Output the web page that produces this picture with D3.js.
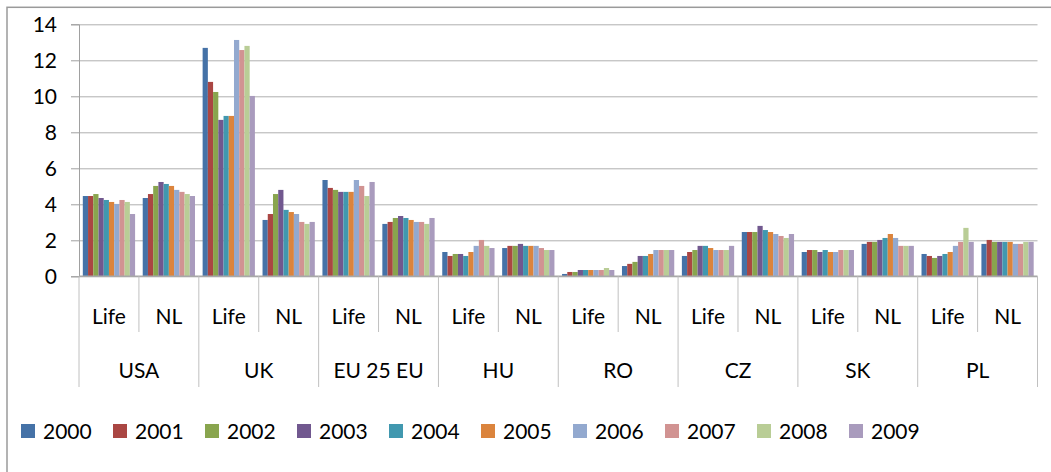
<!DOCTYPE html>
<html>
<head>
<meta charset="utf-8">
<script src="https://cdn.jsdelivr.net/npm/d3@7"></script>
<style>
  body { margin: 0; background: #fff; }
  text { font-family: Lato, "Open Sans", sans-serif; fill: #000; }
</style>
</head>
<body>
<svg id="chart" width="1051" height="472"></svg>
<script>
let countries = ["USA", "UK", "EU 25 EU", "HU", "RO", "CZ", "SK", "PL"];
let types = ["Life", "NL"];
let years = ["2000", "2001", "2002", "2003", "2004", "2005", "2006", "2007", "2008", "2009"];
let yTicks = [0, 2, 4, 6, 8, 10, 12, 14];

// one value per group: USA Life, USA NL, UK Life, UK NL, ... PL NL
let v2000 = [4.46, 4.35, 12.69, 3.13, 5.35, 2.91, 1.35, 1.57, 0.13, 0.57, 1.13, 2.46, 1.35, 1.80, 1.24, 1.80];
let v2001 = [4.46, 4.57, 10.80, 3.46, 4.91, 3.02, 1.13, 1.69, 0.24, 0.69, 1.35, 2.46, 1.46, 1.91, 1.13, 2.02];
let v2002 = [4.57, 5.02, 10.24, 4.57, 4.80, 3.24, 1.24, 1.69, 0.24, 0.80, 1.46, 2.46, 1.46, 1.91, 1.02, 1.91];
let v2003 = [4.35, 5.24, 8.69, 4.80, 4.69, 3.35, 1.24, 1.80, 0.35, 1.13, 1.69, 2.80, 1.35, 2.02, 1.13, 1.91];
let v2004 = [4.24, 5.13, 8.91, 3.69, 4.69, 3.24, 1.13, 1.69, 0.35, 1.13, 1.69, 2.57, 1.46, 2.13, 1.24, 1.91];
let v2005 = [4.13, 5.02, 8.91, 3.57, 4.69, 3.13, 1.35, 1.69, 0.35, 1.24, 1.57, 2.46, 1.35, 2.35, 1.35, 1.91];
let v2006 = [4.02, 4.80, 13.13, 3.46, 5.35, 3.02, 1.69, 1.69, 0.35, 1.46, 1.46, 2.35, 1.35, 2.13, 1.69, 1.80];
let v2007 = [4.24, 4.69, 12.57, 3.02, 5.02, 3.02, 2.02, 1.57, 0.35, 1.46, 1.46, 2.24, 1.46, 1.69, 1.91, 1.80];
let v2008 = [4.13, 4.57, 12.80, 2.91, 4.46, 2.91, 1.69, 1.46, 0.46, 1.46, 1.46, 2.13, 1.46, 1.69, 2.69, 1.91];
let v2009 = [3.46, 4.46, 10.02, 3.02, 5.24, 3.24, 1.57, 1.46, 0.35, 1.46, 1.69, 2.35, 1.46, 1.69, 1.91, 1.91];
let series = [v2000, v2001, v2002, v2003, v2004, v2005, v2006, v2007, v2008, v2009];

let colors = ["#4572A7", "#AA4643", "#89A54E", "#71588F", "#4198AF",
              "#DB843D", "#93A9CF", "#D19392", "#B9CD96", "#A99BBD"];

let svg = d3.select("#chart");
let padding = { top: 24.3, left: 79, right: 1037.5, bottom: 276.3 };
let fontSize = "21px";

// outer frame
svg.append("rect")
    .attr("x", 7)
    .attr("y", 7.3)
    .attr("width", 1100)
    .attr("height", 600)
    .attr("fill", "none")
    .attr("stroke", "#9a9a9a")
    .attr("stroke-width", 1.5);

let groups = [];
countries.forEach(c => types.forEach(t => groups.push(c + "|" + t)));

let x0 = d3.scaleBand()
            .domain(groups)
            .range([padding.left, padding.right]);
let x1 = d3.scaleBand()
            .domain(years)
            .range([0, x0.bandwidth()])
            .paddingOuter(0.73);
let yScale = d3.scaleLinear()
            .domain([0, 14])
            .range([padding.bottom, padding.top]);

// gridlines
svg.append("g")
    .attr("transform", "translate(" + padding.left + ",0)")
    .call(d3.axisLeft(yScale).tickValues(yTicks).tickSize(-(padding.right - padding.left)).tickFormat(""))
    .call(g => g.select(".domain").remove())
    .call(g => g.selectAll("line").attr("stroke", "#b0b0b0"));

// bars
series.forEach((vals, i) => {
    svg.append("g")
        .selectAll("rect")
        .data(vals)
        .enter()
        .append("rect")
            .attr("x", (d, j) => x0(groups[j]) + x1(years[i]))
            .attr("width", x1.bandwidth())
            .attr("y", d => yScale(d))
            .attr("height", d => padding.bottom - yScale(d))
            .attr("fill", colors[i]);
});

// y axis
svg.append("g")
    .attr("transform", "translate(" + padding.left + ",0)")
    .call(d3.axisLeft(yScale).tickValues(yTicks).tickSize(8).tickPadding(14))
    .call(g => g.select(".domain").attr("stroke", "#a0a0a0"))
    .call(g => g.selectAll(".tick line").attr("stroke", "#a0a0a0"))
    .call(g => g.selectAll(".tick text").style("font-size", fontSize).style("font-family", "Lato, sans-serif"));

// category axis
let cat = svg.append("g");
cat.append("line")
    .attr("x1", padding.left).attr("x2", padding.right)
    .attr("y1", padding.bottom).attr("y2", padding.bottom)
    .attr("stroke", "#a8a8a8").attr("stroke-width", 1.5);

cat.append("line")
    .attr("x1", padding.left).attr("x2", padding.left)
    .attr("y1", padding.bottom).attr("y2", 387)
    .attr("stroke", "#c0c0c0");

groups.forEach((g, j) => {
    let xr = x0(g) + x0.bandwidth();
    let isCountryEnd = j % 2 == 1;
    cat.append("line")
        .attr("x1", xr).attr("x2", xr)
        .attr("y1", padding.bottom)
        .attr("y2", isCountryEnd ? 387 : 332)
        .attr("stroke", "#c0c0c0");
    cat.append("text")
        .attr("x", x0(g) + x0.bandwidth() / 2)
        .attr("y", 317)
        .attr("dy", "0.35em")
        .attr("text-anchor", "middle")
        .style("font-size", fontSize)
        .text(g.split("|")[1]);
});

countries.forEach(c => {
    cat.append("text")
        .attr("x", x0(c + "|NL"))
        .attr("y", 371)
        .attr("dy", "0.35em")
        .attr("text-anchor", "middle")
        .style("font-size", fontSize)
        .text(c);
});

// legend
let legend = svg.append("g")
    .selectAll("g")
    .data(years)
    .enter()
    .append("g")
    .attr("transform", (d, i) => "translate(" + (21 + i * 92) + ",424)");
legend.append("rect")
    .attr("width", 14)
    .attr("height", 14)
    .attr("fill", (d, i) => colors[i]);
legend.append("text")
    .attr("x", 22)
    .attr("y", 7)
    .attr("dy", "0.36em")
    .style("font-size", fontSize)
    .text(d => d);
</script>
</body>
</html>
